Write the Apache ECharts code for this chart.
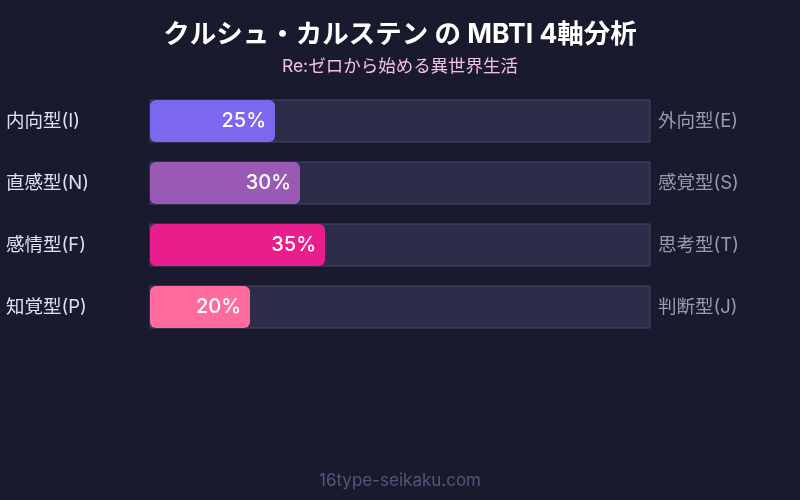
<!DOCTYPE html>
<html>
<head>
<meta charset="utf-8">
<script src="https://cdn.jsdelivr.net/npm/echarts@6/dist/echarts.min.js"></script>
<style>
  html, body { margin: 0; padding: 0; background: #1a1a2e; }
  #chart { width: 800px; height: 500px; }
</style>
</head>
<body>
<div id="chart"></div>
<script>
// data
var leftLabels = ['内向型(I)', '直感型(N)', '感情型(F)', '知覚型(P)'];
var rightLabels = ['外向型(E)', '感覚型(S)', '思考型(T)', '判断型(J)'];
var values = [25, 30, 35, 20];
var barColors = ['#7b68ee', '#9b59b6', '#e91e8c', '#ff6b9d'];

var FONT = 'Inter, "Noto Sans CJK JP", sans-serif';

var chart = echarts.init(document.getElementById('chart'));

var option = {
  backgroundColor: '#1a1a2e',
  textStyle: { fontFamily: FONT },
  title: [
    {
      text: 'クルシュ・カルステン の MBTI 4軸分析',
      subtext: 'Re:ゼロから始める異世界生活',
      left: 'center',
      top: 17,
      itemGap: 9,
      textStyle: { color: '#ffffff', fontSize: 26.5, fontWeight: 'bold', fontFamily: FONT },
      subtextStyle: { color: '#f0c0e0', fontSize: 17.5, fontFamily: FONT }
    },
    {
      text: '16type-seikaku.com',
      left: 'center',
      bottom: 6,
      textStyle: { color: '#55557a', fontSize: 17, fontWeight: 'normal', fontFamily: FONT }
    }
  ],
  grid: { left: 150, right: 150, top: 90, height: 248 },
  xAxis: { type: 'value', min: 0, max: 100, show: false },
  yAxis: [
    {
      type: 'category',
      data: leftLabels,
      inverse: true,
      position: 'left',
      axisLine: { show: false },
      axisTick: { show: false },
      axisLabel: { color: '#e0e0f0', fontSize: 18.5, align: 'left', margin: 144, fontFamily: FONT }
    },
    {
      type: 'category',
      data: rightLabels,
      inverse: true,
      position: 'right',
      axisLine: { show: false },
      axisTick: { show: false },
      axisLabel: { color: '#9a9ab0', fontSize: 18.5, align: 'left', margin: 8, fontFamily: FONT }
    }
  ],
  series: [
    {
      type: 'bar',
      yAxisIndex: 0,
      barWidth: 42,
      showBackground: true,
      backgroundStyle: { color: '#2d2d4a', borderColor: '#45456a', borderWidth: 1 },
      data: values.map(function (v, i) {
        return { value: v, itemStyle: { color: barColors[i], borderRadius: 6 } };
      }),
      label: {
        show: true,
        position: 'insideRight',
        distance: 9,
        color: '#ffffff',
        fontSize: 20,
        fontWeight: 500,
        fontFamily: FONT,
        formatter: '{c}%'
      }
    }
  ]
};

chart.setOption(option);
</script>
</body>
</html>
